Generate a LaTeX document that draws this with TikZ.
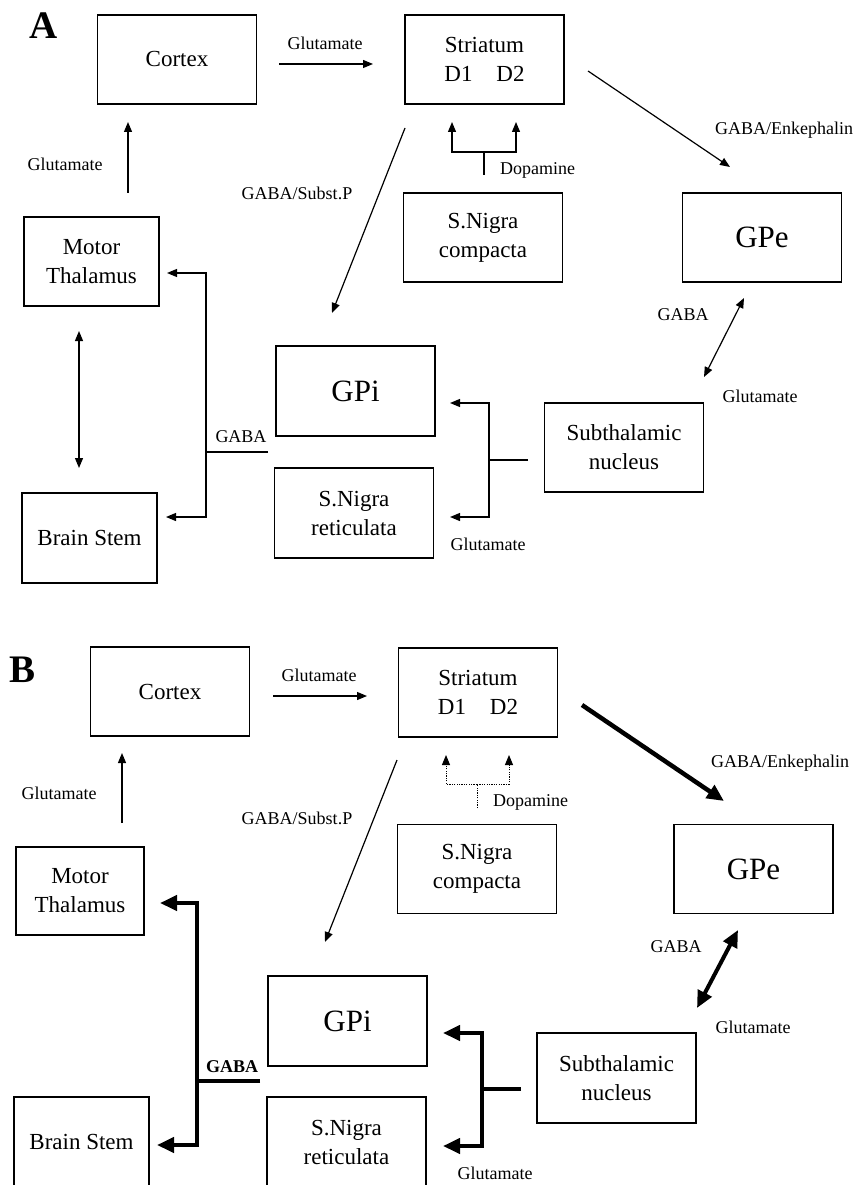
\documentclass[tikz,border=0pt]{standalone}
\usepackage{fontspec}
\setmainfont{Liberation Serif}
\usetikzlibrary{arrows.meta}
\begin{document}
\begin{tikzpicture}[x=1pt,y=-1pt,
  box/.style={draw, line width=1.3pt, align=center, inner sep=0pt,
    font=\fontsize{23}{29}\selectfont, minimum width=159pt, minimum height=89pt},
  sbox/.style={box, minimum width=135pt},
  big/.style={font=\fontsize{31}{36}\selectfont},
  lbl/.style={inner sep=0pt, font=\fontsize{18}{21}\selectfont},
  blbl/.style={inner sep=0pt, font=\fontsize{18}{21}\selectfont\bfseries},
  panel/.style={inner sep=0pt, font=\fontsize{39}{42}\selectfont\bfseries},
  conn/.style={line width=1.2pt},
  arr/.style={conn, -{Triangle[length=10pt,width=8pt]}},
  darr/.style={conn, {Triangle[length=10pt,width=8pt]}-{Triangle[length=10pt,width=8pt]}},
  dotconn/.style={line width=1pt, dash pattern=on 1.2pt off 1.2pt},
  dotarr/.style={dotconn, -{Triangle[length=10pt,width=8pt]}},
  heavy/.style={line width=4pt},
  harr/.style={heavy, -{Triangle[length=17pt,width=15pt]}},
  hdarr/.style={heavy, {Triangle[length=17pt,width=15pt]}-{Triangle[length=17pt,width=15pt]}}
]
\useasboundingbox (0,0) rectangle (856,1185);
\clip (0,0) rectangle (856,1185);

% ================= Panel A =================
\node[panel] (labA) at (44,26) {A};
\node[box] (cortexA) at (177,59.5) {Cortex};
\node[box] (striatumA) at (484.5,59.5) {Striatum\\D1\hspace{24pt}D2};
\node[box] (sncA) at (483,237.5) {S.Nigra\\compacta};
\node[box, big] (gpeA) at (762,237.5) {GPe};
\node[sbox] (thalA) at (91.5,261.5) {Motor\\Thalamus};
\node[sbox, minimum height=90pt] (bsA) at (89.5,538) {Brain Stem};
\node[box, big, minimum height=90pt] (gpiA) at (355.5,391) {GPi};
\node[box, minimum height=90pt] (snrA) at (354,513) {S.Nigra\\reticulata};
\node[box] (stnA) at (624,447.5) {Subthalamic\\nucleus};

% connector end points
\coordinate (csA1) at (279,64);   \coordinate (csA2) at (373,64);
\coordinate (tcA1) at (128,193);  \coordinate (tcA2) at (128,122);
\coordinate (sgeA1) at (588,71);  \coordinate (sgeA2) at (730,167);
\coordinate (sgiA1) at (405,128); \coordinate (sgiA2) at (332,313);
\coordinate (dopA0) at (484,175); \coordinate (dopA1) at (484,152);
\coordinate (dopA2) at (452,122); \coordinate (dopA3) at (516,122);
\coordinate (gabA0) at (268,452); \coordinate (gabA1) at (206,452);
\coordinate (gabA2) at (167,273); \coordinate (gabA3) at (166,517);
\coordinate (tbA1) at (79,331);   \coordinate (tbA2) at (79,468);
\coordinate (stA0) at (528,460);  \coordinate (stA1) at (489,460);
\coordinate (stA2) at (450,403);  \coordinate (stA3) at (450,517);
\coordinate (gsA1) at (744,298);  \coordinate (gsA2) at (704,377);

\draw[arr] (csA1) -- (csA2);
\node[lbl] (l1A) at (325,43) {Glutamate};
\draw[arr] (tcA1) -- (tcA2);
\node[lbl] (l2A) at (65,164) {Glutamate};
\draw[arr] (sgeA1) -- (sgeA2);
\node[lbl] (l3A) at (784,130) {GABA/Enkephalin};
\draw[arr] (sgiA1) -- (sgiA2);
\node[lbl] (l4A) at (297,193) {GABA/Subst.P};
\draw[conn] (dopA0) -- (dopA1);
\draw[arr] (dopA1) -| (dopA2);
\draw[arr] (dopA1) -| (dopA3);
\node[lbl, anchor=west] (l5A) at (500,170) {Dopamine};
\draw[conn] (gabA0) -- (gabA1);
\draw[arr] (gabA1) |- (gabA2);
\draw[arr] (gabA1) |- (gabA3);
\node[lbl] (l6A) at (241,437) {GABA};
\draw[darr] (tbA1) -- (tbA2);
\draw[conn] (stA0) -- (stA1);
\draw[arr] (stA1) |- (stA2);
\draw[arr] (stA1) |- (stA3);
\node[lbl] (l7A) at (488,544) {Glutamate};
\draw[darr] (gsA1) -- (gsA2);
\node[lbl] (l8A) at (683,315) {GABA};
\node[lbl] (l9A) at (760,396) {Glutamate};

% ================= Panel B =================
\node[panel] (labB) at (23,670) {B};
\node[box] (cortexB) at (170,691.5) {Cortex};
\node[box] (striatumB) at (478,692.5) {Striatum\\D1\hspace{24pt}D2};
\node[box] (sncB) at (477,869) {S.Nigra\\compacta};
\node[box, big] (gpeB) at (753.5,869) {GPe};
\node[sbox, minimum width=128pt, minimum height=88pt] (thalB) at (80,891) {Motor\\Thalamus};
\node[sbox, minimum height=90pt] (bsB) at (81.5,1142) {Brain Stem};
\node[box, big, minimum height=90pt] (gpiB) at (347.5,1021) {GPi};
\node[box, minimum height=90pt] (snrB) at (346.5,1142) {S.Nigra\\reticulata};
\node[box, minimum height=90pt] (stnB) at (616.5,1078) {Subthalamic\\nucleus};

\coordinate (csB1) at (273,696);  \coordinate (csB2) at (367,696);
\coordinate (tcB1) at (122,823);  \coordinate (tcB2) at (122,753);
\coordinate (sgeB1) at (582,705); \coordinate (sgeB2) at (724,801);
\coordinate (sgiB1) at (397,760); \coordinate (sgiB2) at (325,942);
\coordinate (dopB0) at (477,808); \coordinate (dopB1) at (477,784);
\coordinate (dopB2) at (446,755); \coordinate (dopB3) at (509,755);
\coordinate (gabB0) at (260,1081); \coordinate (gabB1) at (197,1081);
\coordinate (gabB2) at (160,903);  \coordinate (gabB3) at (157,1145);
\coordinate (stB0) at (521,1089); \coordinate (stB1) at (482,1089);
\coordinate (stB2) at (443,1033); \coordinate (stB3) at (443,1146);
\coordinate (gsB1) at (738,930);  \coordinate (gsB2) at (697,1008);

\draw[arr] (csB1) -- (csB2);
\node[lbl] (l1B) at (319,675) {Glutamate};
\draw[arr] (tcB1) -- (tcB2);
\node[lbl] (l2B) at (59,793) {Glutamate};
\draw[harr, line width=4.5pt] (sgeB1) -- (sgeB2);
\node[lbl] (l3B) at (780,763) {GABA/Enkephalin};
\draw[arr] (sgiB1) -- (sgiB2);
\node[lbl] (l4B) at (297,818) {GABA/Subst.P};
\draw[dotconn] (dopB0) -- (dopB1);
\draw[dotarr] (dopB1) -| (dopB2);
\draw[dotarr] (dopB1) -| (dopB3);
\node[lbl, anchor=west] (l5B) at (493,802) {Dopamine};
\draw[heavy] (gabB0) -- (gabB1);
\draw[harr] (gabB1) |- (gabB2);
\draw[harr] (gabB1) |- (gabB3);
\node[blbl] (l6B) at (232,1067) {GABA};
\draw[heavy] (stB0) -- (stB1);
\draw[harr] (stB1) |- (stB2);
\draw[harr] (stB1) |- (stB3);
\node[lbl] (l7B) at (495,1173) {Glutamate};
\draw[hdarr] (gsB1) -- (gsB2);
\node[lbl] (l8B) at (676,947) {GABA};
\node[lbl] (l9B) at (753,1027) {Glutamate};
\end{tikzpicture}
\end{document}
